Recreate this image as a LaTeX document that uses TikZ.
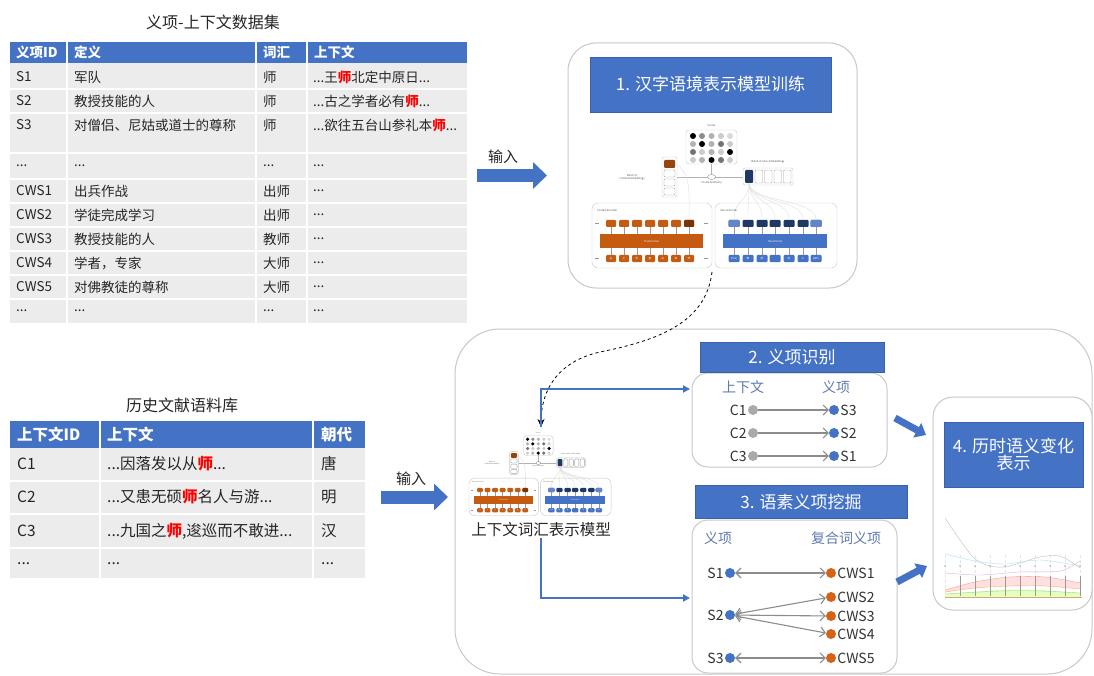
\documentclass[tikz,border=0pt]{standalone}
\usepackage{fontspec}
\setmainfont{Noto Sans CJK SC}
\usetikzlibrary{arrows.meta,positioning}

\definecolor{hdblue}{RGB}{68,114,196}
\definecolor{navy}{RGB}{32,56,100}
\definecolor{rust}{RGB}{197,90,17}
\definecolor{cellgray}{RGB}{236,236,236}
\definecolor{framegray}{RGB}{200,200,200}
\definecolor{labelblue}{RGB}{96,122,176}
\definecolor{dotgray}{RGB}{170,170,170}
\definecolor{dotorange}{RGB}{214,98,22}

\newcommand{\fsz}[1]{\fontsize{#1}{#1}\selectfont}
\newcommand{\shi}{\textcolor{red}{\bfseries 师}}
\newcommand{\dotdot}{...}

% encoder sketch, in its own pixel frame (0,0)--(245,141)
\newcommand{\encoderfig}{%
  \node[minitext] (scorelab) at (119.5,-1) {Scores};
  \draw[framegray, fill=white, rounded corners=3pt] (94,3) rectangle (145,37);
  \foreach \y/\sha/\shb/\shc/\shd/\she in {9/100/45/30/20/15, 17/30/100/30/55/20, 25/55/20/30/20/100, 33/20/30/100/55/20}{
    \fill[black!\sha] (101,\y) circle (3);
    \fill[black!\shb] (110,\y) circle (3);
    \fill[black!\shc] (119.5,\y) circle (3);
    \fill[black!\shd] (129,\y) circle (3);
    \fill[black!\she] (138,\y) circle (3);
  }
  \draw[black!30] (119.5,37) -- (119.5,47.5);
  \draw[black!30] (85,50) -- (151,50);
  \draw[black!45, fill=white] (119.5,50) ellipse (4 and 2.5);
  \node[minitext] at (119.5,56) {Cosine Similarity};
  % context embeddings
  \draw[framegray, fill=white, rounded corners=2pt] (70,30) rectangle (85,70);
  \fill[rust!75!black, rounded corners=1pt] (72,33) rectangle (83,41);
  \foreach \y in {43,52,61} \draw[black!35, rounded corners=1pt] (72,\y) rectangle (83,\y+7);
  \node[minitext, align=center] at (40,50) {Batch of\\Context Embeddings};
  % gloss embeddings
  \draw[framegray, fill=white, rounded corners=2pt] (151,41) rectangle (201,58);
  \fill[navy, rounded corners=1pt] (153,43) rectangle (161,56);
  \foreach \x in {163,172.5,182,191.5} \draw[black!35, rounded corners=1pt] (\x,43) rectangle (\x+7.5,56);
  \node[minitext] at (176,35) {Batch of Gloss Embeddings};
  \foreach \x in {142,156,170,183,197,211,224} \draw[black!12] (157,56) .. controls (157,75) and (\x,72) .. (\x,92);
  \draw[black!12] (83,37) .. controls (100,45) and (97,70) .. (97,92);
  % context encoder
  \draw[framegray, rounded corners=6pt] (0,76) rectangle (120,141);
  \node[minitext, anchor=west] at (5,83) {Context Encoder};
  \fill[rust] (8,107) rectangle (111,121);
  \node[minitext, text=white] at (59.5,114) {Transformer};
  \foreach \x/\tok in {19/古,32/之,45/学,58/者,71/必,84/有,97/师}{
    \fill[rust, rounded corners=1pt] (\x-5,93) rectangle (\x+5,100);
    \fill[rust, rounded corners=1pt] (\x-5,128) rectangle (\x+5,135);
    \node[minitext, text=white] at (\x,131.5) {\tok};
    \draw[black!40] (\x,100) -- (\x,107) (\x,121) -- (\x,128);
  }
  \fill[rust!60!black, rounded corners=1pt] (92,93) rectangle (102,100);
  \foreach \y in {96.5,131.5} \draw[black!40] (3,\y) -- (7,\y) (112,\y) -- (116,\y);
  % gloss encoder
  \draw[framegray, rounded corners=6pt] (123,76) rectangle (245,141);
  \node[minitext, anchor=west] at (128,83) {Gloss Encoder};
  \fill[hdblue] (131,107) rectangle (235,121);
  \node[minitext, text=white] at (183,114) {Transformer};
  \foreach \x/\tok in {142/{[CLS]},156/教,170/授,183/{},197/的,211/人,224/{[SEP]}}{
    \fill[navy, rounded corners=1pt] (\x-5.5,93) rectangle (\x+5.5,100);
    \fill[hdblue, rounded corners=1pt] (\x-5.5,128) rectangle (\x+5.5,135);
    \node[minitext, text=white] at (\x,131.5) {\tok};
    \draw[black!40] (\x,100) -- (\x,107) (\x,121) -- (\x,128);
  }
  \fill[hdblue!85, rounded corners=1pt] (136.5,93) rectangle (147.5,100);
  \fill[hdblue!85, rounded corners=1pt] (218.5,93) rectangle (229.5,100);
}

\begin{document}
\begin{tikzpicture}[x=1pt, y=-1pt,
  minitext/.style={inner sep=0, font=\fsz{2.6}, text=black!70},
  cell/.style={anchor=west, inner sep=0, text=black!85, font=\fsz{13.5}},
  hcell/.style={anchor=west, inner sep=0, text=white, font=\fsz{13.5}\bfseries},
  bcell/.style={anchor=west, inner sep=0, text=black!85, font=\fsz{15.5}},
  bhcell/.style={anchor=west, inner sep=0, text=white, font=\fsz{15.5}\bfseries},
  sep/.style={white, line width=1.5pt},
  panel/.style={draw=framegray, fill=white, line width=1pt, rounded corners=16pt, inner sep=0},
  titlebox/.style={fill=hdblue, draw=hdblue!85!black, text=white, font=\fsz{17}, inner sep=0},
  blockarrow/.style={hdblue, line width=13pt, -{Triangle[length=14pt,width=26pt]}},
  smallblock/.style={hdblue, line width=7pt, -{Triangle[length=10pt,width=16pt]}},
  flowline/.style={hdblue, line width=2pt, -{Triangle[length=7pt,width=7pt]}},
  dashedarrow/.style={black, thick, dashed, -{Stealth[length=8pt,width=7pt]}},
  graydot/.style={circle, fill=dotgray, minimum size=10pt, inner sep=0},
  bluedot/.style={circle, fill=hdblue, minimum size=10pt, inner sep=0},
  orangedot/.style={circle, fill=dotorange, minimum size=10pt, inner sep=0},
  dotlabel/.style={inner sep=1pt, text=black!80, font=\fsz{14}},
  headlabel/.style={inner sep=0, text=labelblue, font=\fsz{14}},
  linkarrow/.style={black!45, line width=1.1pt, -{Straight Barb[length=5pt,width=10pt]}},
  biarrow/.style={black!45, line width=1.1pt, {Straight Barb[length=5pt,width=10pt]}-{Straight Barb[length=5pt,width=10pt]}}]
\fill[white] (0,0) rectangle (1094,676);
\useasboundingbox (0,0) rectangle (1094,676);

% sense-context dataset
\node[font=\fsz{16}, text=black!85] (settitle) at (213,22) {义项-上下文数据集};
\fill[cellgray] (10,63) rectangle (467,323);
\fill[hdblue] (10,42) rectangle (467,63);
\foreach \y in {89,113,153,179,203,227,251,275,299} \draw[sep] (10,\y) -- (467,\y);
\foreach \x in {67,256,307} \draw[sep] (\x,42) -- (\x,323);
\node[hcell] (h1) at (16,52.5) {义项ID};
\node[hcell] (h2) at (74,52.5) {定义};
\node[hcell] (h3) at (263,52.5) {词汇};
\node[hcell] (h4) at (314,52.5) {上下文};
\foreach \y/\sid/\gloss/\word/\ctx [count=\i] in {
  77/S1/军队/师/{\dotdot 王\shi 北定中原日\dotdot},
  101/S2/教授技能的人/师/{\dotdot 古之学者必有\shi\dotdot},
  125/S3/对僧侣、尼姑或道士的尊称/师/{\dotdot 欲往五台山参礼本\shi\dotdot},
  166/\dotdot/\dotdot/\dotdot/\dotdot,
  191/CWS1/出兵作战/出师/\dotdot,
  215/CWS2/学徒完成学习/出师/\dotdot,
  239/CWS3/教授技能的人/教师/\dotdot,
  263/CWS4/学者，专家/大师/\dotdot,
  287/CWS5/对佛教徒的尊称/大师/\dotdot,
  311/\dotdot/\dotdot/\dotdot/\dotdot}{
  \node[cell] (sid\i) at (16,\y) {\sid};
  \node[cell] (gloss\i) at (74,\y) {\gloss};
  \node[cell] (word\i) at (263,\y) {\word};
  \node[cell] (ctx\i) at (313,\y) {\ctx};
}

% historical corpus
\node[font=\fsz{16}, text=black!85] (corptitle) at (182,405) {历史文献语料库};
\fill[cellgray] (10,448) rectangle (365,578);
\fill[hdblue] (10,421) rectangle (365,448);
\foreach \y in {481,514,548} \draw[sep] (10,\y) -- (365,\y);
\foreach \x in {100,313} \draw[sep] (\x,421) -- (\x,578);
\node[bhcell] (ch1) at (17,434.5) {上下文ID};
\node[bhcell] (ch2) at (107,434.5) {上下文};
\node[bhcell] (ch3) at (321,434.5) {朝代};
\foreach \y/\cid/\ctx/\dyn [count=\i] in {
  464/C1/{\dotdot 因落发以从\shi\dotdot}/唐,
  497/C2/{\dotdot 又患无硕\shi 名人与游\dotdot}/明,
  531/C3/{\dotdot 九国之\shi,逡巡而不敢进\dotdot}/汉,
  564/\dotdot/\dotdot/\dotdot}{
  \node[bcell] (cid\i) at (17,\y) {\cid};
  \node[bcell] (cctx\i) at (107,\y) {\ctx};
  \node[bcell] (dyn\i) at (321,\y) {\dyn};
}

% input arrows
\coordinate (in1s) at (477,175.5);
\coordinate (in1e) at (547,175.5);
\node[font=\fsz{15}, text=black!85] (inlab1) at (503,157) {输入};
\draw[blockarrow] (in1s) -- (in1e);
\coordinate (in2s) at (381,497);
\coordinate (in2e) at (448,497);
\node[font=\fsz{15}, text=black!85] (inlab2) at (411,479) {输入};
\draw[blockarrow] (in2s) -- (in2e);

% step 1: model training
\node[panel, rounded corners=28pt, minimum width=289pt, minimum height=245pt] (trainbox) at (712.5,165.5) {};
\node[titlebox, minimum width=241pt, minimum height=55pt] (train) at (710.5,84.5) {1. 汉字语境表示模型训练};
\begin{scope}[shift={(592,127)}]
  \encoderfig
\end{scope}
\coordinate (trainout) at (712,272);

% the lower stage
\node[panel, rounded corners=45pt, minimum width=637pt, minimum height=345pt] (stagebox) at (773.5,501.5) {};
\begin{scope}[shift={(469,434)}, scale=0.58, transform shape]
  \encoderfig
\end{scope}
\coordinate (ctxmodel) at (541,427);
\node[font=\fsz{15.5}, text=black!85, inner sep=1pt] (modellabel) at (541,530) {上下文词汇表示模型};
\draw[dashedarrow] (trainout) .. controls (706,322) and (660,340) .. (600,352) .. controls (556,362) and (541,392) .. (ctxmodel);

% step 2: sense recognition
\node[panel, minimum width=195pt, minimum height=94pt] (sensebox) at (789.5,420) {};
\node[titlebox, minimum width=184pt, minimum height=30pt] (sense) at (792,357) {2. 义项识别};
\node[headlabel] (senseh1) at (743,387) {上下文};
\node[headlabel] (senseh2) at (836,387) {义项};
\foreach \y/\cname/\sname [count=\i] in {410/C1/S3, 433/C2/S2, 456/C3/S1}{
  \node[graydot] (cdot\i) at (753,\y) {};
  \node[bluedot] (sdot\i) at (834,\y) {};
  \node[dotlabel, left=0pt of cdot\i] {\cname};
  \node[dotlabel, right=0pt of sdot\i] {\sname};
  \draw[linkarrow] (cdot\i) -- (sdot\i);
}

% step 3: morpheme sense mining
\node[panel, minimum width=205pt, minimum height=153pt] (minebox) at (794.5,596.5) {};
\node[titlebox, minimum width=212pt, minimum height=33pt] (mine) at (801,501.5) {3. 语素义项挖掘};
\node[headlabel] (mineh1) at (718,538) {义项};
\node[headlabel] (mineh2) at (846,538) {复合词义项};
\foreach \y/\sname [count=\i] in {573/S1, 615/S2, 658/S3}{
  \node[bluedot] (mdot\i) at (730,\y) {};
  \node[dotlabel, left=0pt of mdot\i] {\sname};
}
\foreach \y/\wname [count=\i] in {573/CWS1, 597/CWS2, 616/CWS3, 634/CWS4, 658/CWS5}{
  \node[orangedot] (wdot\i) at (831,\y) {};
  \node[dotlabel, right=0pt of wdot\i] {\wname};
}
\draw[biarrow] (mdot1) -- (wdot1);
\draw[biarrow] (mdot2) -- (wdot2);
\draw[biarrow] (mdot2) -- (wdot3);
\draw[biarrow] (mdot2) -- (wdot4);
\draw[biarrow] (mdot3) -- (wdot5);

% blue flow from the model
\coordinate (in2) at (690,389);
\coordinate (in3) at (690,598);
\draw[flowline] (ctxmodel) |- (in2);
\draw[flowline] (modellabel.south) |- (in3);

% step 4: diachronic change
\node[panel, rounded corners=20pt, minimum width=159pt, minimum height=213pt] (changebox) at (1012.5,503.5) {};
\node[titlebox, align=center, minimum width=139pt, minimum height=65pt] (change) at (1013.5,454.5) {4. 历时语义变化\\表示};
\coordinate (fromsense) at (895,418);
\coordinate (tosense) at (926,435);
\coordinate (frommine) at (897,582);
\coordinate (tomine) at (927,566);
\draw[smallblock] (fromsense) -- (tosense);
\draw[smallblock] (frommine) -- (tomine);

% small trend chart
\foreach \x in {945,960,...,1080} \draw[black!10, densely dashed, very thin] (\x,555) -- (\x,597);
\fill[green!40!yellow!25] plot[smooth] coordinates {(945,594) (1000,590) (1040,590) (1080,593)} -- (1080,597) -- (945,597) -- cycle;
\fill[red!12] plot[smooth] coordinates {(945,590) (975,582) (1010,577) (1045,577) (1080,583)} -- plot[smooth] coordinates {(1080,589) (1045,586) (1010,586) (975,588) (945,592)} -- cycle;
\draw[black!25] plot[smooth] coordinates {(945,518) (960,540) (975,559) (990,566) (1005,567) (1020,563) (1040,557) (1060,556) (1080,568)};
\draw[cyan!35] plot[smooth] coordinates {(945,554) (975,561) (1005,564) (1040,560) (1080,566)};
\draw[violet!30] plot[smooth] coordinates {(945,573) (980,575) (1020,572) (1060,571) (1080,561)};
\draw[red!40] plot[smooth] coordinates {(945,590) (975,582) (1010,577) (1045,577) (1080,583)};
\draw[orange!60] plot[smooth] coordinates {(945,592) (975,588) (1010,586) (1045,586) (1080,589)};
\draw[green!60!black!40] plot[smooth] coordinates {(945,594) (1000,591) (1040,591) (1080,593)};
\draw[brown!70, thick] (945,597) -- (1082,597);
\foreach \x in {960,975,...,1080} \draw[black!40, very thin] (\x,576) -- (\x,596);
\foreach \x in {945,960,...,1080} \fill[black!30] (\x,566) circle (0.8);
\end{tikzpicture}
\end{document}
